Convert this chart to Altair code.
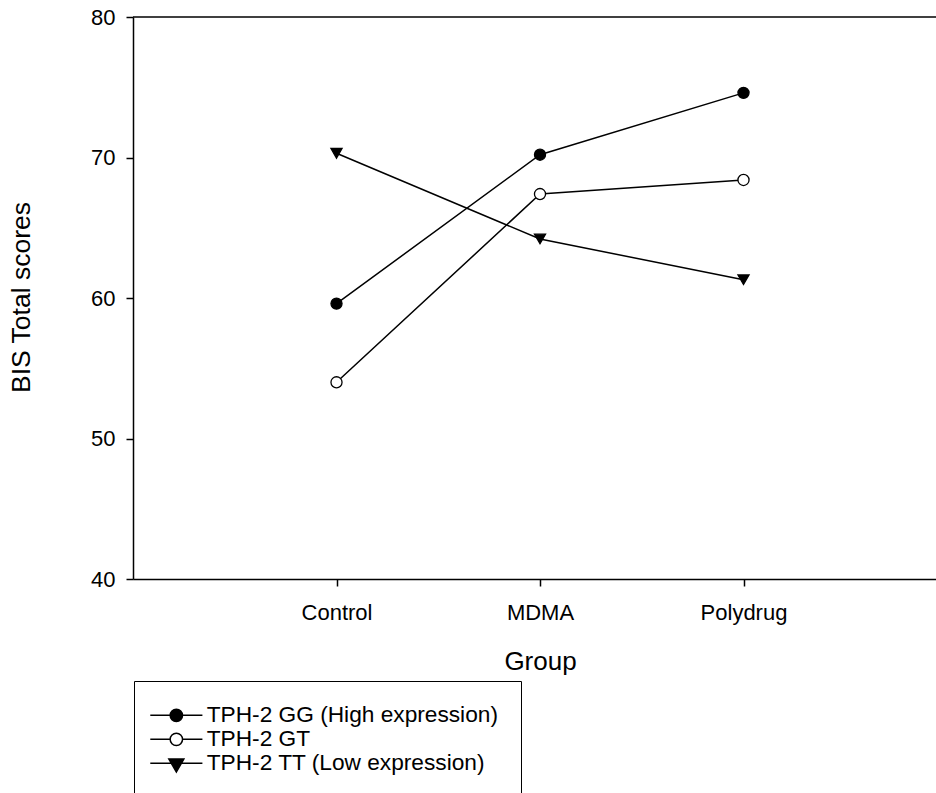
import altair as alt
import pandas as pd

# ---- data ----
groups = ["Control", "MDMA", "Polydrug"]
series = ["TPH-2 GG (High expression)", "TPH-2 GT", "TPH-2 TT (Low expression)"]
gg_scores = [59.6, 70.2, 74.6]
gt_scores = [54.0, 67.4, 68.4]
tt_scores = [70.3, 64.2, 61.3]
y_ticks = [40, 50, 60, 70, 80]

# ---- styling ----
FONT = "Liberation Sans"
marker_shapes = ["circle", "circle", "triangle-down"]
marker_fills = ["black", "white", "black"]
marker_strokes = ["black", "black", "black"]
marker_sizes = [123, 123, 225]
legend_paths = [
    "M-4.2,0H4.2M-1,0A1,1 0 1,0 1,0A1,1 0 1,0 -1,0Z",
    "M-4.2,0H-1M1,0H4.2M-1,0A1,1 0 1,0 1,0A1,1 0 1,0 -1,0Z",
    "M-4.2,0H4.2M-1.21,-0.7L1.21,-0.7L0,1.4Z",
]

rows = []
for s, vals in zip(series, [gg_scores, gt_scores, tt_scores]):
    for g, v in zip(groups, vals):
        rows.append({"group": g, "series": s, "score": v})
df = pd.DataFrame(rows)

x_enc = alt.X(
    "group:N",
    sort=groups,
    scale=alt.Scale(type="point", padding=1, range=[0, 814]),
    axis=alt.Axis(
        title="Group",
        labelAngle=0,
        labelBaseline="alphabetic",
        labelPadding=33,
        tickSize=7,
        titleX=407,
        titleY=90,
        titleBaseline="alphabetic",
    ),
)
y_enc = alt.Y(
    "score:Q",
    scale=alt.Scale(domain=[40, 80], nice=False, zero=False),
    axis=alt.Axis(
        values=y_ticks,
        title="BIS Total scores",
        labelPadding=11,
        tickSize=7,
        labelFlush=False,
        titleX=-104,
        titleY=280,
        titleFontSize=26.5,
        titleBaseline="alphabetic",
    ),
)

base = alt.Chart(df)

lines = base.mark_line(color="black", strokeWidth=1.5).encode(
    x=x_enc, y=y_enc, detail="series:N"
)

top_border = alt.Chart(pd.DataFrame({"edge": ["top"]})).mark_rule(
    color="black", strokeWidth=1.5
).encode(y=alt.datum(80), x=alt.value(0), x2=alt.value(814))

points = base.mark_point(filled=True, opacity=1, stroke="black", strokeWidth=1.3).encode(
    x=x_enc,
    y=y_enc,
    shape=alt.Shape("series:N", scale=alt.Scale(domain=series, range=marker_shapes), legend=None),
    fill=alt.Fill("series:N", scale=alt.Scale(domain=series, range=marker_fills), legend=None),
    size=alt.Size("series:N", scale=alt.Scale(domain=series, range=marker_sizes), legend=None),
)

leg = alt.Legend(
    title=None,
    orient="none",
    legendX=1,
    legendY=664,
    padding=23,
    strokeColor="black",
    fillColor="white",
    labelFont=FONT,
    labelFontSize=22.7,
    labelColor="black",
    labelLimit=600,
    labelOffset=19,
    symbolOffset=8,
    symbolSize=154,
    symbolStrokeColor="black",
    symbolStrokeWidth=1.5,
    rowPadding=0,
)

legend_layer = base.transform_filter("false").mark_point(
    filled=True, opacity=1, strokeWidth=1.5
).encode(
    shape=alt.Shape("series:N", scale=alt.Scale(domain=series, range=legend_paths), legend=leg),
    fill=alt.Fill("series:N", scale=alt.Scale(domain=series, range=marker_fills), legend=leg),
    stroke=alt.Stroke("series:N", scale=alt.Scale(domain=series, range=marker_strokes), legend=leg),
)

chart = (
    alt.layer(lines, top_border, points, legend_layer)
    .resolve_scale(shape="independent", fill="independent", stroke="independent")
    .properties(
        width=803,
        height=562,
        autosize=alt.AutoSizeParams(type="none"),
        padding={"left": 133, "top": 17, "right": 0, "bottom": 214},
        background="white",
    )
    .configure_view(strokeWidth=0)
    .configure_axis(
        grid=False,
        domainColor="black",
        domainWidth=1.5,
        tickColor="black",
        tickWidth=1.5,
        labelFont=FONT,
        labelFontSize=22,
        labelColor="black",
        titleFont=FONT,
        titleFontSize=26,
        titleFontWeight="normal",
        titleColor="black",
    )
)

chart.save("out.html", embed_options={"renderer": "svg", "actions": False})
